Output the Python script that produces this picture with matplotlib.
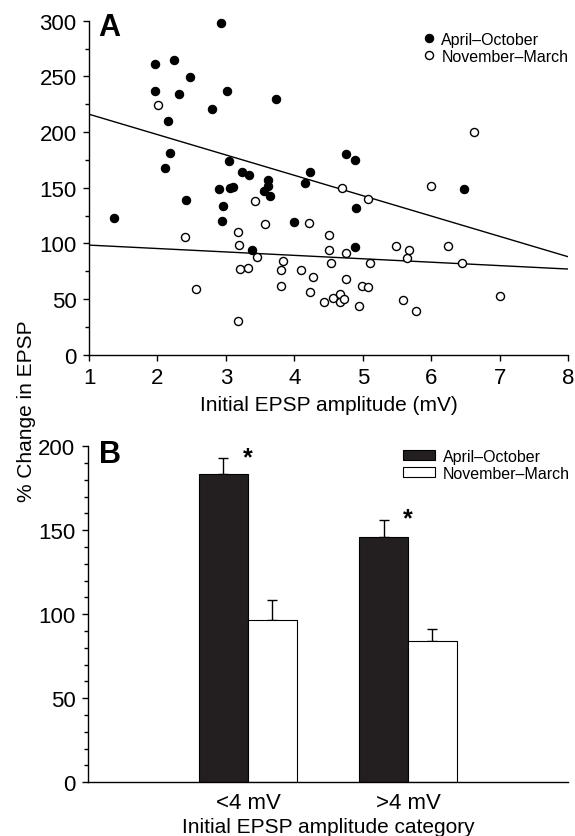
import matplotlib
matplotlib.use('Agg')
import matplotlib.pyplot as plt
import numpy as np
from matplotlib.ticker import MultipleLocator
from matplotlib.patches import Patch

plt.rcParams['font.family'] = ['Liberation Sans', 'DejaVu Sans']

# ---------------- Data: panel A ----------------
apr_oct_x = [1.37, 1.96, 1.97, 2.11, 2.15, 2.18, 2.24, 2.31, 2.42, 2.48, 2.79, 2.90,
             2.93, 2.94, 2.96, 3.02, 3.05, 3.06, 3.10, 3.24, 3.33, 3.38, 3.56, 3.62,
             3.62, 3.64, 3.73, 3.99, 4.15, 4.23, 4.75, 4.88, 4.90, 4.89, 6.48]
apr_oct_y = [123, 261, 237, 168, 210, 181, 265, 234, 139, 249, 221, 149,
             298, 120, 134, 237, 174, 150, 151, 164, 161, 94, 147, 157,
             152, 143, 230, 119, 154, 164, 180, 175, 132, 97, 149]
nov_mar_x = [2.01, 2.40, 2.56, 3.17, 3.19, 3.17, 3.21, 3.32, 3.42, 3.45, 3.57, 3.80,
             3.81, 3.83, 4.10, 4.22, 4.23, 4.27, 4.43, 4.50, 4.50, 4.54, 4.57, 4.66,
             4.67, 4.69, 4.72, 4.75, 4.75, 4.94, 4.99, 5.07, 5.08, 5.11, 5.49, 5.59,
             5.65, 5.68, 5.77, 5.99, 6.24, 6.44, 6.62, 7.00]
nov_mar_y = [224, 106, 59, 110, 99, 30, 77, 78, 138, 88, 117, 76,
             62, 84, 76, 118, 56, 70, 47, 108, 94, 82, 51, 47,
             55, 150, 50, 91, 68, 44, 61.5, 61, 140, 82, 98, 49.5,
             87, 94, 39, 152, 98, 82, 200, 53]
fit_x = [1, 8]
fit_apr_oct = [216, 88]
fit_nov_mar = [98.5, 77]

# ---------------- Data: panel B ----------------
categories = ['<4 mV', '>4 mV']
bar_apr_oct = [183.5, 146]
err_apr_oct = [9.5, 10]
bar_nov_mar = [96.5, 84]
err_nov_mar = [12, 7]
season_labels = ['April\u2013October', 'November\u2013March']
star_y = [189, 153]

fig = plt.figure(figsize=(5.75, 8.37), dpi=100)
axA = fig.add_axes([0.1548, 0.5749, 0.8336, 0.3992])
axB = fig.add_axes([0.1530, 0.0642, 0.8348, 0.4014])

for ax in (axA, axB):
    ax.spines['top'].set_visible(False)
    ax.spines['right'].set_visible(False)
    for s in ('left', 'bottom'):
        ax.spines[s].set_linewidth(1.0)
    ax.tick_params(axis='both', which='major', direction='out', length=4.5,
                   width=1.0, labelsize=16, color='black', pad=4.5)
    ax.tick_params(axis='both', which='minor', direction='out', length=2.8,
                   width=1.0, color='black')

# ---------------- Panel A ----------------
axA.plot(fit_x, fit_apr_oct, color='black', lw=1.0, zorder=2)
axA.plot(fit_x, fit_nov_mar, color='black', lw=1.0, zorder=2)
axA.plot(apr_oct_x, apr_oct_y, 'o', ls='none', ms=6.0, mfc='black', mec='black',
         mew=0.8, label=season_labels[0], clip_on=False, zorder=3)
axA.plot(nov_mar_x, nov_mar_y, 'o', ls='none', ms=5.8, mfc='white', mec='black',
         mew=1.0, label=season_labels[1], clip_on=False, zorder=4)
axA.set_xlim(1, 8)
axA.set_ylim(0, 300)
axA.xaxis.set_major_locator(MultipleLocator(1))
axA.yaxis.set_major_locator(MultipleLocator(50))
axA.yaxis.set_minor_locator(MultipleLocator(25))
axA.set_xlabel('Initial EPSP amplitude (mV)', fontsize=15, labelpad=5)
axA.legend(loc='upper left', bbox_to_anchor=(0.70, 0.966), frameon=False,
           fontsize=11.5, handlelength=0.6, handletextpad=0.45, labelspacing=0.1,
           borderpad=0, borderaxespad=0)

# ---------------- Panel B ----------------
x = np.arange(len(categories))
w = 0.306
axB.bar(x - w / 2, bar_apr_oct, w, color='#231f20', edgecolor='black', lw=0.8, zorder=2)
axB.bar(x + w / 2, bar_nov_mar, w, color='white', edgecolor='black', lw=0.8, zorder=2)
axB.errorbar(x - w / 2, bar_apr_oct, yerr=[np.zeros(2), err_apr_oct], fmt='none',
             ecolor='black', elinewidth=1.0, capsize=3.85, capthick=1.0, zorder=1)
axB.errorbar(x + w / 2, bar_nov_mar, yerr=[np.zeros(2), err_nov_mar], fmt='none',
             ecolor='black', elinewidth=1.0, capsize=3.85, capthick=1.0, zorder=1)
for xi, yi in zip(x, star_y):
    axB.text(xi, yi, '*', ha='center', va='baseline', fontsize=18,
             fontweight='bold', color='black')
axB.set_xlim(-1, 2)
axB.set_ylim(0, 200)
axB.set_xticks(x)
axB.set_xticklabels(categories)
axB.tick_params(axis='x', which='both', length=0, pad=7)
axB.yaxis.set_major_locator(MultipleLocator(50))
axB.yaxis.set_minor_locator(MultipleLocator(10))
axB.set_xlabel('Initial EPSP amplitude category', fontsize=15, labelpad=3)
handles = [Patch(facecolor='#231f20', edgecolor='black', lw=0.8),
           Patch(facecolor='white', edgecolor='black', lw=0.8)]
axB.legend(handles, season_labels, loc='upper left', bbox_to_anchor=(0.657, 0.992),
           frameon=False, fontsize=11.5, handlelength=2.0, handleheight=0.6,
           handletextpad=0.45, labelspacing=0.1, borderpad=0, borderaxespad=0)

# ---------------- Figure texts ----------------
fig.text(98 / 575, 1 - 36 / 837, 'A', fontsize=22, fontweight='bold', ha='left', va='baseline')
fig.text(99 / 575, 1 - 462.7 / 837, 'B', fontsize=22, fontweight='bold', ha='left', va='baseline')
fig.text(27 / 575, 1 - 411 / 837, '% Change in EPSP', rotation=90, fontsize=15,
         ha='center', va='center')

fig.savefig('out.png', dpi=100)
